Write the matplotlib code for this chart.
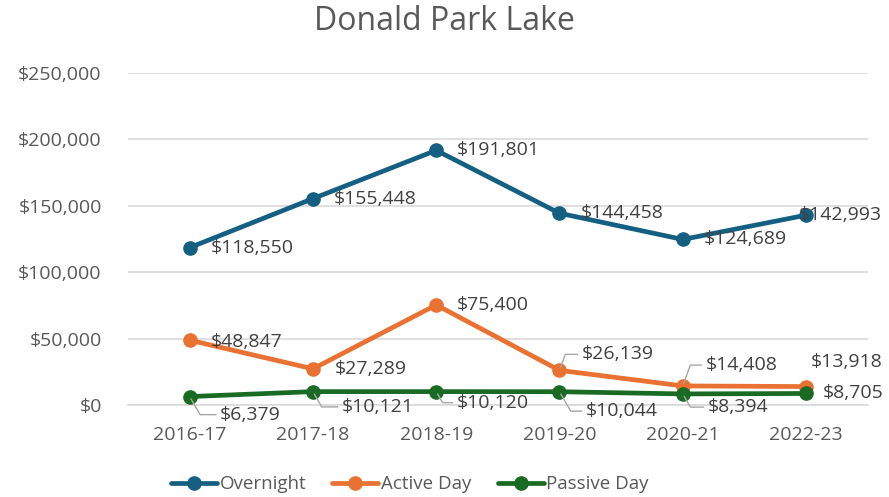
import numpy as np
import matplotlib
matplotlib.use("Agg")
import matplotlib.pyplot as plt
from matplotlib.ticker import FuncFormatter

plt.rcParams['font.family'] = ['Open Sans', 'DejaVu Sans']

years = ["2016-17", "2017-18", "2018-19", "2019-20", "2020-21", "2022-23"]
overnight = [118550, 155448, 191801, 144458, 124689, 142993]
active_day = [48847, 27289, 75400, 26139, 14408, 13918]
passive_day = [6379, 10121, 10120, 10044, 8394, 8705]

series_names = ["Overnight", "Active Day", "Passive Day"]
colors = ["#156082", "#E97132", "#196B24"]
txt = "#595959"

# label offsets in points (dx, dy, leader line?)
offs_over = [(15, 0, False)] * 5 + [(-5, 0, False)]
offs_act = [(15, -1, False), (16, 0, False), (15, 0, False),
            (16, 11.5, True), (16.5, 15, True), (3.5, 18, False)]
offs_pas = [(22, -13, True), (21, -11, True), (15, -8, True),
            (19, -14, True), (18, -9.5, True), (12, 0, False)]

fig = plt.figure(figsize=(8.89, 4.97), dpi=100)
ax = fig.add_axes([0.144, 0.185, 0.832, 0.668])

x = np.arange(len(years))
for vals, col, name, offs in zip([overnight, active_day, passive_day], colors,
                                 series_names, [offs_over, offs_act, offs_pas]):
    ax.plot(x, vals, color=col, lw=3.4, marker='o', ms=9.5, label=name,
            solid_capstyle='round', zorder=3)
    for xi, v, (dx, dy, lead) in zip(x, vals, offs):
        kw = {}
        if lead:
            ang = 70 if dy > 0 else -60
            kw['arrowprops'] = dict(arrowstyle='-', color='#A6A6A6', lw=1,
                                    shrinkA=1, shrinkB=2,
                                    connectionstyle=f"angle,angleA=0,angleB={ang},rad=0")
        ax.annotate(f"${v:,}", (xi, v), xytext=(dx, dy), textcoords='offset points',
                    ha='left', va='center', fontsize=14, color='#404040', zorder=4,
                    annotation_clip=False, **kw)

ax.set_xlim(-0.5, len(years) - 0.5)
ax.set_ylim(0, 250000)
ax.set_yticks(np.arange(0, 250001, 50000))
ax.yaxis.set_major_formatter(FuncFormatter(lambda v, p: f"${v:,.0f}"))
ax.set_xticks(x)
ax.set_xticklabels(years)
ax.tick_params(axis='both', length=0, labelsize=14, labelcolor=txt)
ax.tick_params(axis='y', pad=19)
ax.tick_params(axis='x', pad=15)
ax.grid(axis='y', color='#D9D9D9', lw=1.2)
ax.set_axisbelow(True)
for s in ax.spines.values():
    s.set_visible(False)
ax.spines['bottom'].set_visible(True)
ax.spines['bottom'].set_color('#D9D9D9')
ax.spines['bottom'].set_linewidth(1.2)

fig.suptitle("Donald Park Lake", y=0.99, fontsize=23, color=txt)
fig.legend(loc='center', bbox_to_anchor=(0.461, 0.026), ncol=3, frameon=False,
           fontsize=13.5, labelcolor=txt, handlelength=2.45, handletextpad=0.15,
           columnspacing=1.4)

fig.savefig("out.png", dpi=100)
